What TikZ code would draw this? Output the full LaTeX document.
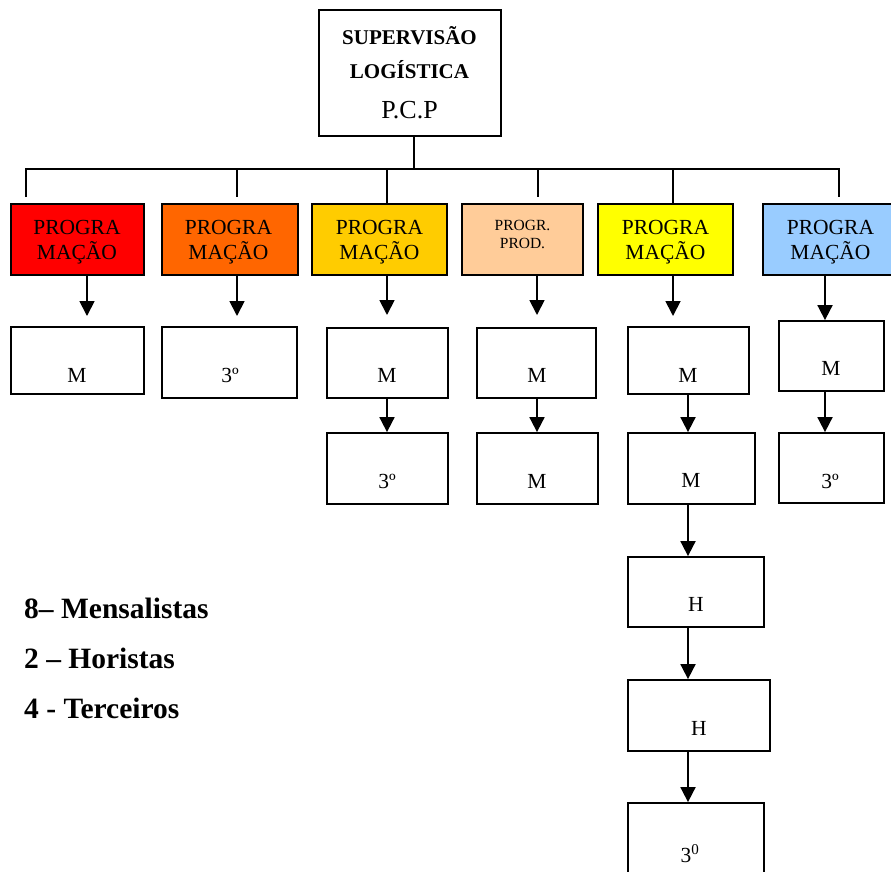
\documentclass[tikz,border=0pt]{standalone}
\usepackage{fontspec}
\setmainfont{Liberation Serif}
\usetikzlibrary{arrows.meta}
\definecolor{cred}{HTML}{FF0000}
\definecolor{corange}{HTML}{FF6600}
\definecolor{cgold}{HTML}{FFCC00}
\definecolor{cpeach}{HTML}{FFCC99}
\definecolor{cyellow}{HTML}{FFFF00}
\definecolor{cblue}{HTML}{99CCFF}
\tikzset{
  box/.style={draw=black, line width=1.8pt, rectangle, inner sep=0pt},
  txt/.style={inner sep=0pt, anchor=base, font=\fontsize{21.5pt}{23pt}\selectfont},
  smalltxt/.style={inner sep=0pt, anchor=base, font=\fontsize{15.5pt}{17pt}\selectfont},
  headtxt/.style={inner sep=0pt, anchor=base, font=\fontsize{21pt}{23pt}\selectfont\bfseries},
  pcptxt/.style={inner sep=0pt, anchor=base, font=\fontsize{26pt}{28pt}\selectfont},
  legtxt/.style={inner sep=0pt, anchor=base west, font=\fontsize{29.5pt}{31pt}\selectfont\bfseries},
  conn/.style={line width=1.8pt, draw=black},
  arr/.style={line width=1.8pt, draw=black, -{Triangle[width=15pt,length=15pt]}}
}
\begin{document}
\begin{tikzpicture}[x=1pt,y=-1pt]
\useasboundingbox (0,0) rectangle (891,871);
% top box
\node[box, minimum width=182pt, minimum height=126pt] (T) at (410,73) {};
\node[headtxt] (tT1) at (409.5,44) {SUPERVISÃO};
\node[headtxt] (tT2) at (409.5,78) {LOGÍSTICA};
\node[pcptxt] (tT3) at (409.5,118) {P.C.P};
% level 2 boxes
\node[box, fill=cred, minimum width=133pt, minimum height=71pt] (r1) at (77.5,239.5) {};
\node[box, fill=corange, minimum width=136pt, minimum height=71pt] (r2) at (230,239.5) {};
\node[box, fill=cgold, minimum width=135pt, minimum height=71pt] (r3) at (379.5,239.5) {};
\node[box, fill=cpeach, minimum width=121pt, minimum height=71pt] (r4) at (522.5,239.5) {};
\node[box, fill=cyellow, minimum width=135pt, minimum height=71pt] (r5) at (665.5,239.5) {};
\node[box, fill=cblue, minimum width=134pt, minimum height=71pt] (r6) at (830,239.5) {};
\node[txt] (tr1a) at (77,234) {PROGRA};
\node[txt] (tr1b) at (77,259) {MAÇÃO};
\node[txt] (tr2a) at (228.5,234) {PROGRA};
\node[txt] (tr2b) at (228.5,259) {MAÇÃO};
\node[txt] (tr3a) at (379.5,234) {PROGRA};
\node[txt] (tr3b) at (379.5,259) {MAÇÃO};
\node[smalltxt] (tr4a) at (522.5,230) {PROGR.};
\node[smalltxt] (tr4b) at (522.5,248) {PROD.};
\node[txt] (tr5a) at (665.5,234) {PROGRA};
\node[txt] (tr5b) at (665.5,259) {MAÇÃO};
\node[txt] (tr6a) at (830.5,234) {PROGRA};
\node[txt] (tr6b) at (830.5,259) {MAÇÃO};
% level 3 boxes
\node[box, minimum width=133pt, minimum height=67pt] (c1a) at (77.5,360.5) {};
\node[txt] (tc1a) at (77,382) {M};
\node[box, minimum width=135pt, minimum height=71pt] (c2a) at (229.5,362.5) {};
\node[txt] (tc2a) at (230,382) {3º};
\node[box, minimum width=121pt, minimum height=70pt] (c3a) at (387.5,363) {};
\node[txt] (tc3a) at (387,382) {M};
\node[box, minimum width=121pt, minimum height=71pt] (c3b) at (387.5,468.5) {};
\node[txt] (tc3b) at (387,488) {3º};
\node[box, minimum width=119pt, minimum height=70pt] (c4a) at (536.5,363) {};
\node[txt] (tc4a) at (537,382) {M};
\node[box, minimum width=121pt, minimum height=71pt] (c4b) at (537.5,468.5) {};
\node[txt] (tc4b) at (537,488) {M};
\node[box, minimum width=121pt, minimum height=67pt] (c5a) at (688.5,360.5) {};
\node[txt] (tc5a) at (688,382) {M};
\node[box, minimum width=127pt, minimum height=71pt] (c5b) at (691.5,468.5) {};
\node[txt] (tc5b) at (691,487) {M};
\node[box, minimum width=136pt, minimum height=70pt] (c5c) at (696,592) {};
\node[txt] (tc5c) at (696,611) {H};
\node[box, minimum width=142pt, minimum height=71pt] (c5d) at (699,715.5) {};
\node[txt] (tc5d) at (699,735) {H};
\node[box, minimum width=136pt, minimum height=80pt] (c5e) at (696,843) {};
\node[txt] (tc5e) at (690,862) {3\textsuperscript{0}};
\node[box, minimum width=105pt, minimum height=70pt] (c6a) at (831.5,356) {};
\node[txt] (tc6a) at (831,375) {M};
\node[box, minimum width=105pt, minimum height=70pt] (c6b) at (831.5,468) {};
\node[txt] (tc6b) at (830,488) {3º};
% tree connectors
\coordinate (bar) at (414,169);
\coordinate (d1) at (26,197);
\coordinate (d2) at (237,197);
\coordinate (d3) at (387,204);
\coordinate (d4) at (538,197);
\coordinate (d5) at (673,204);
\coordinate (d6) at (839,197);
\draw[conn] (T.south -| bar) -- (bar);
\draw[conn] (d1) -- (d1 |- bar) -- (d6 |- bar) -- (d6);
\draw[conn] (d2 |- bar) -- (d2);
\draw[conn] (d3 |- bar) -- (r3.north -| d3);
\draw[conn] (d4 |- bar) -- (d4);
\draw[conn] (d5 |- bar) -- (r5.north -| d5);
% arrows level 2 -> level 3
\coordinate (e1) at (87,316);
\coordinate (e2) at (237,316);
\coordinate (e3) at (387,315);
\coordinate (e4) at (537,315);
\coordinate (e5) at (673,316);
\coordinate (e6) at (825,320);
\draw[arr] (r1.south -| e1) -- (e1);
\draw[arr] (r2.south -| e2) -- (e2);
\draw[arr] (r3.south -| e3) -- (e3);
\draw[arr] (r4.south -| e4) -- (e4);
\draw[arr] (r5.south -| e5) -- (e5);
\draw[arr] (r6.south -| e6) -- (c6a.north -| e6);
% vertical chains
\coordinate (x5) at (688,0);
\draw[arr] (c3a.south -| e3) -- (c3b.north -| e3);
\draw[arr] (c4a.south -| e4) -- (c4b.north -| e4);
\draw[arr] (c5a.south -| x5) -- (c5b.north -| x5);
\draw[arr] (c5b.south -| x5) -- (c5c.north -| x5);
\draw[arr] (c5c.south -| x5) -- (c5d.north -| x5);
\draw[arr] (c5d.south -| x5) -- (c5e.north -| x5);
\draw[arr] (c6a.south -| e6) -- (c6b.north -| e6);
% legend
\node[legtxt] (l1) at (24,618) {8– Mensalistas};
\node[legtxt] (l2) at (24,668) {2 – Horistas};
\node[legtxt] (l3) at (24,718) {4 - Terceiros};
\end{tikzpicture}
\end{document}
